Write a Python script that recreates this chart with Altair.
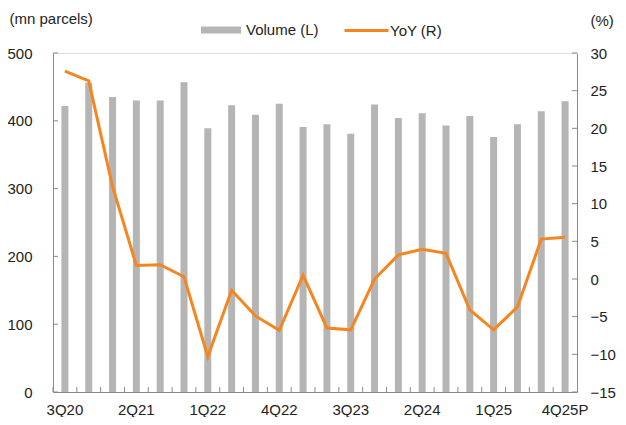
import altair as alt
import pandas as pd

quarters = ["3Q20", "4Q20", "1Q21", "2Q21", "3Q21", "4Q21", "1Q22", "2Q22", "3Q22", "4Q22",
            "1Q23", "2Q23", "3Q23", "4Q23", "1Q24", "2Q24", "3Q24", "4Q24", "1Q25", "2Q25",
            "3Q25", "4Q25P"]
volume = [422, 456, 435, 430, 430, 457, 389, 423, 409, 425, 391, 395, 381, 424, 404, 411,
          393, 407, 376, 395, 414, 429]
yoy = [27.6, 26.3, 12.3, 1.8, 1.9, 0.3, -10.3, -1.5, -4.9, -6.8, 0.5, -6.5, -6.75, 0.0,
       3.2, 3.95, 3.4, -4.1, -6.75, -3.7, 5.3, 5.55]
x_label_values = ["3Q20", "2Q21", "1Q22", "4Q22", "3Q23", "2Q24", "1Q25", "4Q25P"]
left_ticks = [0, 100, 200, 300, 400, 500]
right_ticks = [-15, -10, -5, 0, 5, 10, 15, 20, 25, 30]

df = pd.DataFrame({"q": quarters, "vol": volume, "yoy": yoy})
df["sv"] = "Volume (L)"
df["sy"] = "YoY (R)"
lt = pd.DataFrame({"v": left_ticks})
rt = pd.DataFrame({"v": right_ticks})

FONT = "Liberation Sans"
GRAY = "#b5b5b5"
ORANGE = "#f5861f"
AX = "#8a8a8a"
W, H = 524, 339

xscale = alt.Scale(domain=quarters, paddingInner=0, paddingOuter=0)
xaxis = alt.Axis(values=x_label_values, labelAngle=0, ticks=False, domainColor=AX,
                 labelFontSize=15, labelFont=FONT, labelColor="#222", labelPadding=10,
                 title=None, grid=False)
X = alt.X("q:N", scale=xscale, axis=xaxis, sort=quarters)

lscale = alt.Scale(domain=[0, 500], nice=False)
laxis = alt.Axis(values=left_ticks, ticks=False, domainColor=AX, labelPadding=21,
                 labelFontSize=15, labelFont=FONT, labelColor="#222", grid=False,
                 title="(mn parcels)", titleAngle=0, titleAlign="left", titleBaseline="middle",
                 titleX=-44, titleY=-35, titleFontWeight="normal", titleFontSize=15,
                 titleFont=FONT, titleColor="#222")
rscale = alt.Scale(domain=[-15, 30], nice=False)
raxis = alt.Axis(orient="right", values=right_ticks, ticks=False, domainColor=AX,
                 labelPadding=13, labelAlign="left", labelFontSize=15, labelFont=FONT,
                 labelColor="#222", grid=False, title="(%)", titleAngle=0,
                 titleAlign="left", titleBaseline="middle", titleX=13, titleY=-33,
                 titleFontWeight="normal", titleFontSize=15, titleFont=FONT,
                 titleColor="#222")

bars = alt.Chart(df).mark_bar(size=7).encode(
    x=X,
    y=alt.Y("vol:Q", scale=lscale, axis=laxis),
    fill=alt.Fill("sv:N", scale=alt.Scale(domain=["Volume (L)"], range=[GRAY]),
                  legend=alt.Legend(title=None, orient="none", legendX=148, legendY=-43,
                                    symbolType="M-1,-0.175H1V0.175H-1Z", symbolSize=1600,
                                    symbolStrokeWidth=0, symbolOpacity=1,
                                    labelFontSize=15, labelFont=FONT, labelColor="#222",
                                    labelOffset=5)),
)
lticks = alt.Chart(lt).mark_rule(color=AX).encode(
    y=alt.Y("v:Q", scale=lscale, axis=laxis),
    x=alt.value(0), x2=alt.value(5),
)
xticks = alt.Chart(df).mark_rule(color=AX).encode(
    x=alt.X("q:N", scale=xscale, axis=xaxis, sort=quarters, bandPosition=0),
    y=alt.value(H - 5), y2=alt.value(H),
)
line = alt.Chart(df).mark_line(strokeWidth=3).encode(
    x=X,
    y=alt.Y("yoy:Q", scale=rscale, axis=raxis),
    stroke=alt.Stroke("sy:N", scale=alt.Scale(domain=["YoY (R)"], range=[ORANGE]),
                      legend=alt.Legend(title=None, orient="none", legendX=290, legendY=-46,
                                        symbolType="stroke", symbolSize=1936,
                                        symbolStrokeWidth=3, labelFontSize=15,
                                        labelFont=FONT, labelColor="#222", labelOffset=0)),
)
rticks = alt.Chart(rt).mark_rule(color=AX).encode(
    y=alt.Y("v:Q", scale=rscale, axis=raxis),
    x=alt.value(W - 5), x2=alt.value(W),
)

left = alt.layer(bars, lticks, xticks)
right = alt.layer(line, rticks)

chart = alt.layer(left, right).resolve_scale(y="independent").properties(
    width=W, height=H,
    autosize=alt.AutoSizeParams(type="none"),
    padding={"left": 45, "top": 45, "right": 41, "bottom": 25},
).configure_view(stroke=None).configure(background="white")

chart.save("out.html", embed_options={"renderer": "svg", "actions": False})
